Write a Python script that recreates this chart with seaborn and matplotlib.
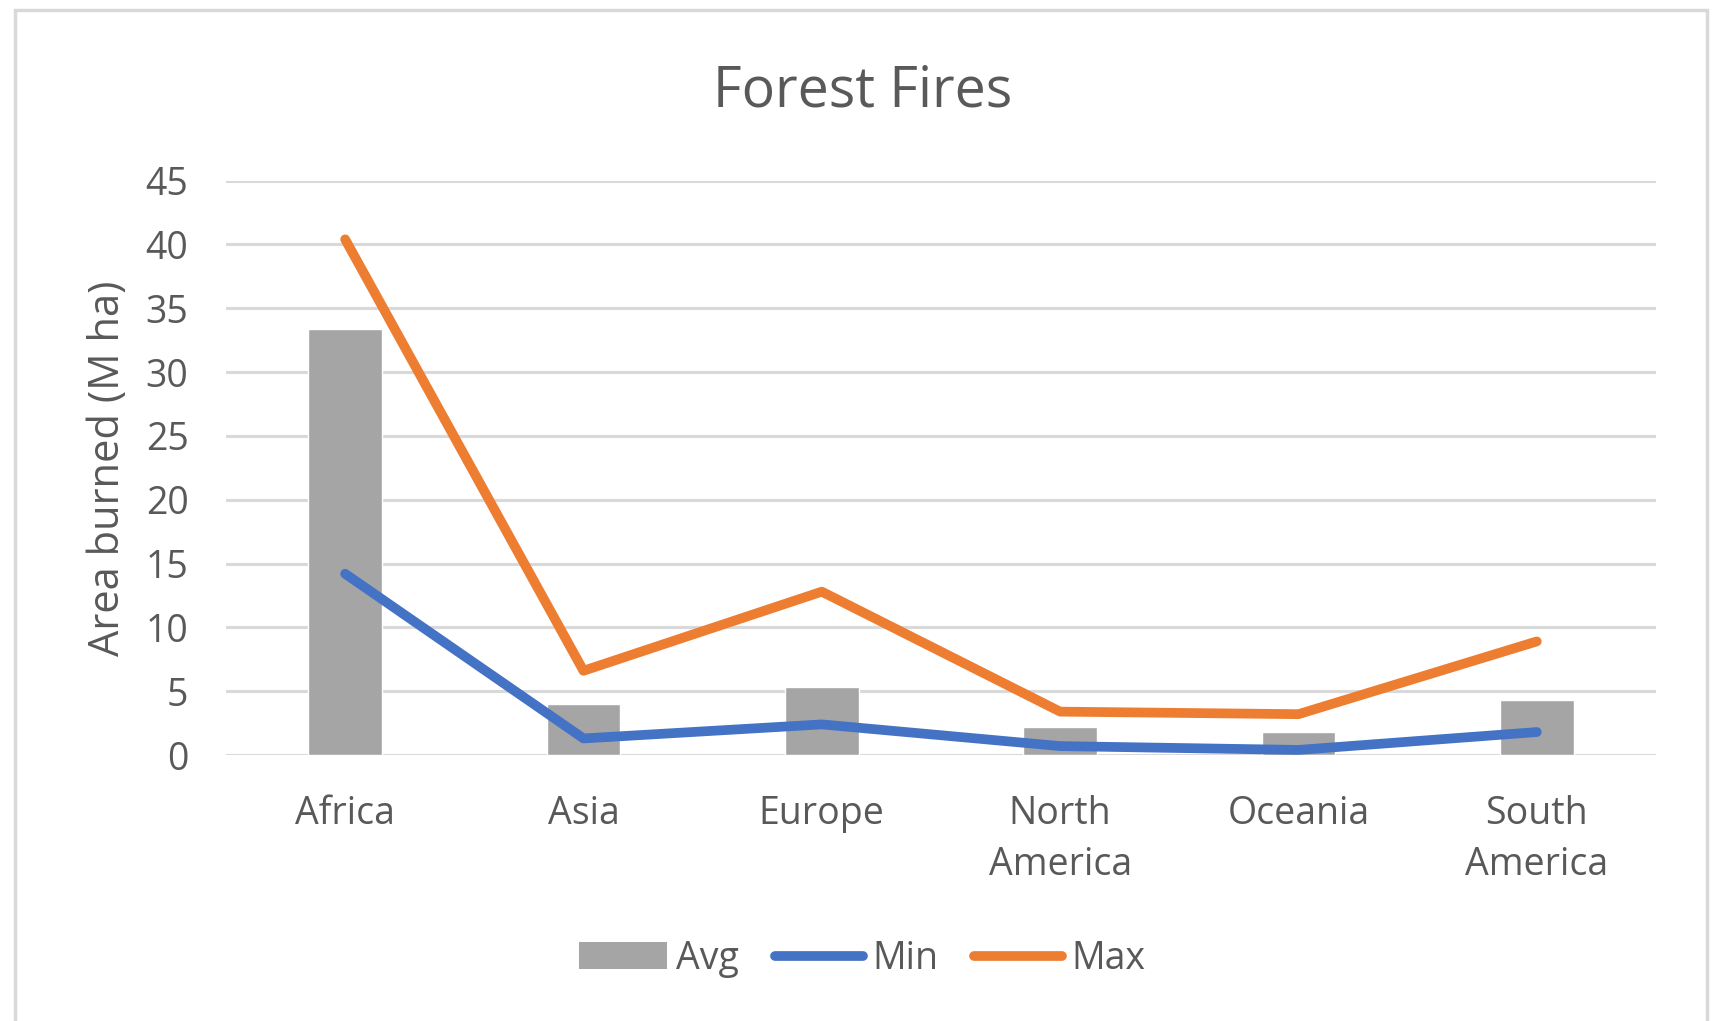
import matplotlib
matplotlib.use("Agg")
import matplotlib.pyplot as plt
import seaborn as sns
import pandas as pd
from matplotlib.patches import Patch, Rectangle
from matplotlib.lines import Line2D

regions = ["Africa", "Asia", "Europe", "North\nAmerica", "Oceania", "South\nAmerica"]
avg_vals = [33.4, 4.0, 5.3, 2.2, 1.8, 4.3]
min_vals = [14.2, 1.3, 2.4, 0.7, 0.4, 1.8]
max_vals = [40.4, 6.6, 12.8, 3.4, 3.2, 8.9]
yticks = [0, 5, 10, 15, 20, 25, 30, 35, 40, 45]

df = pd.DataFrame({"Region": regions, "Avg": avg_vals, "Min": min_vals, "Max": max_vals})

sns.set_theme(style="white")
plt.rcParams['font.family'] = ['Open Sans', 'DejaVu Sans']

TXT = "#595959"
GRAY = "#A5A5A5"
BLUE = "#4472C4"
ORANGE = "#ED7D31"
LW = 7

fig = plt.figure(figsize=(17.16, 10.21), dpi=100)
ax = fig.add_axes([0.1317, 0.2605, 0.8333, 0.5626])

sns.barplot(data=df, x="Region", y="Avg", color=GRAY, width=0.31, ax=ax,
            saturation=1, zorder=2)
sns.lineplot(data=df, x="Region", y="Min", color=BLUE, lw=LW, ax=ax,
             sort=False, zorder=3, solid_capstyle="round")
sns.lineplot(data=df, x="Region", y="Max", color=ORANGE, lw=LW, ax=ax,
             sort=False, zorder=4, solid_capstyle="round")

ax.set_xlim(-0.5, len(regions) - 0.5)
ax.set_ylim(0, 45)
ax.set_yticks(yticks)
ax.yaxis.grid(True, color="#D9D9D9", lw=2.2)
ax.set_axisbelow(True)
for s in ax.spines.values():
    s.set_visible(False)
ax.tick_params(axis="both", length=0, labelsize=27, labelcolor=TXT)
ax.tick_params(axis="x", pad=29)
ax.tick_params(axis="y", pad=27)
for lbl in ax.get_xticklabels():
    lbl.set_linespacing(1.45)
ax.set_xlabel("")
ax.set_ylabel("Area burned (M ha)", fontsize=30, color=TXT, labelpad=12)

fig.text(0.5025, 0.91, "Forest Fires", ha="center", va="center", fontsize=40, color=TXT)

handles = [Patch(facecolor=GRAY, edgecolor="none", label="Avg"),
           Line2D([0], [0], color=BLUE, lw=LW, solid_capstyle="round", label="Min"),
           Line2D([0], [0], color=ORANGE, lw=LW, solid_capstyle="round", label="Max")]
fig.legend(handles=handles, loc="center", bbox_to_anchor=(0.5025, 0.061), ncol=3,
           frameon=False, fontsize=27, labelcolor=TXT, handlelength=2.35,
           handletextpad=0.25, columnspacing=0.95)

fig.patches.append(Rectangle((0.009, -0.01), 0.986, 1.0, transform=fig.transFigure,
                             fill=False, edgecolor="#D9D9D9", lw=2.5))

fig.savefig("out.png", dpi=100, facecolor="white")
